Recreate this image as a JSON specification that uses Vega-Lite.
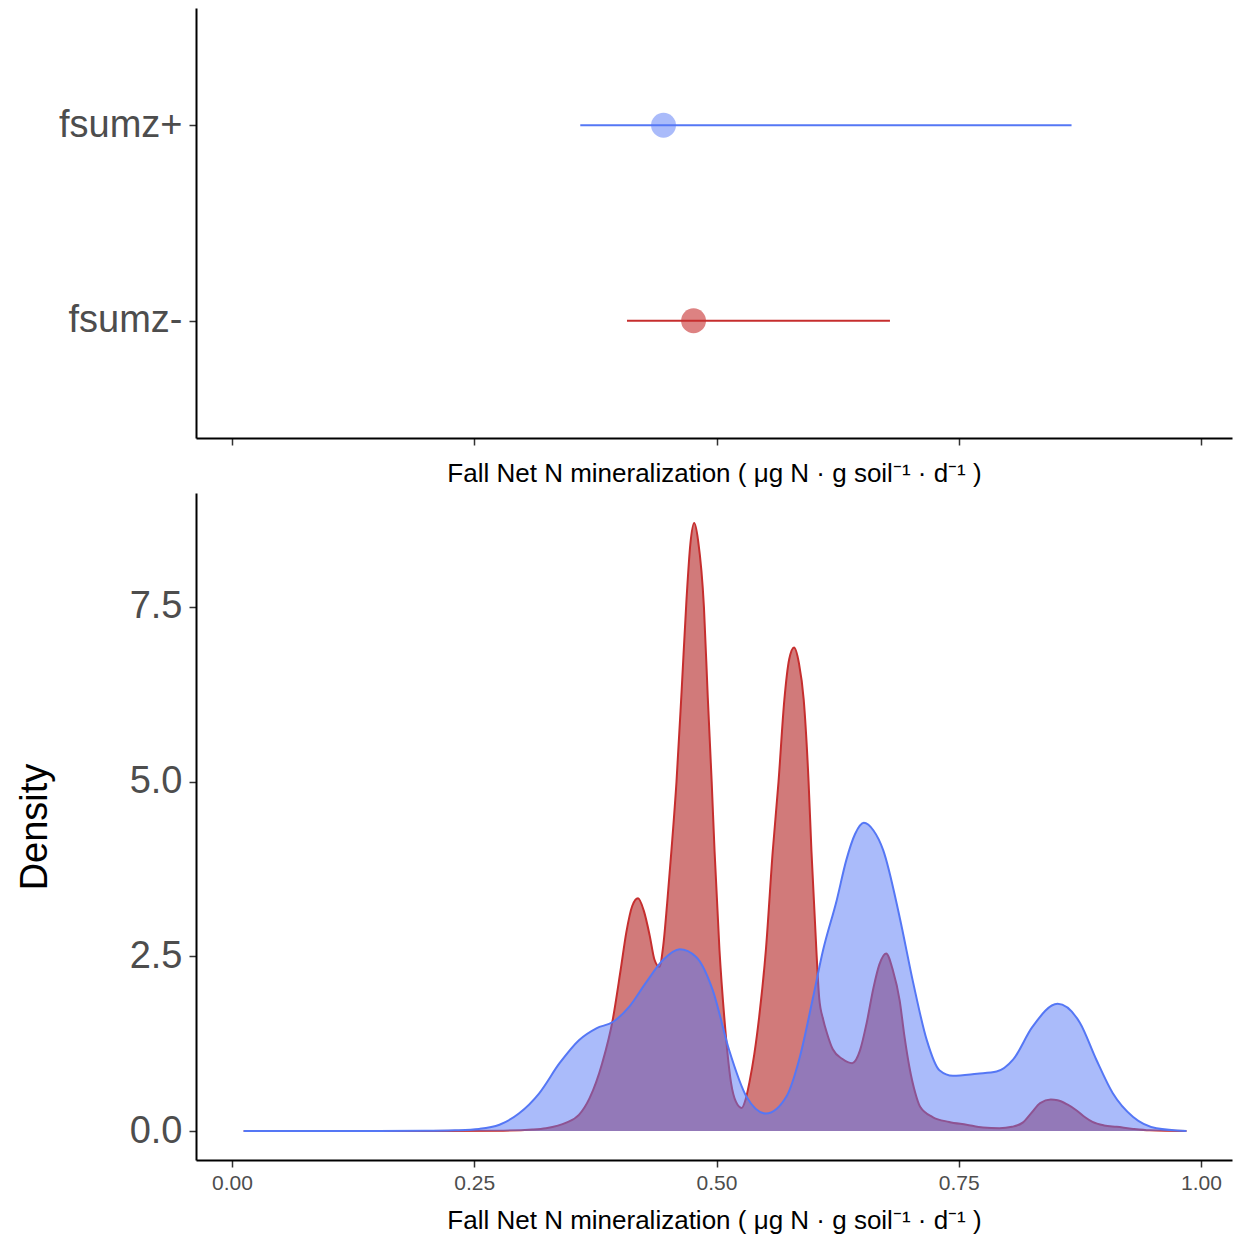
{
  "$schema": "https://vega.github.io/schema/vega-lite/v6.json",
  "background": "white",
  "padding": {"left": 16, "top": 8, "right": 5, "bottom": 5},
  "config": {
    "view": {"stroke": null},
    "font": "Liberation Sans",
    "concat": {"spacing": 6},
    "axis": {
      "domainColor": "black", "domainWidth": 2,
      "tickColor": "#333333", "tickWidth": 1.5, "tickSize": 7,
      "grid": false, "labelColor": "#4d4d4d", "titleColor": "black",
      "titleFontWeight": "normal", "labelFont": "Liberation Sans", "titleFont": "Liberation Sans"
    }
  },
  "datasets": {
    "summary": [
      {"group": "fsumz+", "mean": 0.4453, "lo": 0.3594, "hi": 0.8664},
      {"group": "fsumz-", "mean": 0.4763, "lo": 0.4076, "hi": 0.679}
    ],
    "dens": [
      {"group": "fsumz-", "x": 0.012, "density": 0},
      {"group": "fsumz-", "x": 0.2, "density": 0},
      {"group": "fsumz-", "x": 0.28, "density": 0.005},
      {"group": "fsumz-", "x": 0.31, "density": 0.02},
      {"group": "fsumz-", "x": 0.324, "density": 0.04},
      {"group": "fsumz-", "x": 0.345, "density": 0.12},
      {"group": "fsumz-", "x": 0.358, "density": 0.23},
      {"group": "fsumz-", "x": 0.369, "density": 0.47},
      {"group": "fsumz-", "x": 0.382, "density": 0.97},
      {"group": "fsumz-", "x": 0.393, "density": 1.6},
      {"group": "fsumz-", "x": 0.401, "density": 2.3},
      {"group": "fsumz-", "x": 0.407, "density": 2.85},
      {"group": "fsumz-", "x": 0.413, "density": 3.22},
      {"group": "fsumz-", "x": 0.419, "density": 3.33},
      {"group": "fsumz-", "x": 0.425, "density": 3.15},
      {"group": "fsumz-", "x": 0.431, "density": 2.8},
      {"group": "fsumz-", "x": 0.436, "density": 2.45},
      {"group": "fsumz-", "x": 0.441, "density": 2.35},
      {"group": "fsumz-", "x": 0.445, "density": 2.65},
      {"group": "fsumz-", "x": 0.449, "density": 3.25},
      {"group": "fsumz-", "x": 0.4535, "density": 4.02},
      {"group": "fsumz-", "x": 0.4587, "density": 5.0},
      {"group": "fsumz-", "x": 0.464, "density": 6.3},
      {"group": "fsumz-", "x": 0.469, "density": 7.6},
      {"group": "fsumz-", "x": 0.473, "density": 8.4},
      {"group": "fsumz-", "x": 0.477, "density": 8.7},
      {"group": "fsumz-", "x": 0.481, "density": 8.45},
      {"group": "fsumz-", "x": 0.487, "density": 7.5},
      {"group": "fsumz-", "x": 0.491, "density": 6.2},
      {"group": "fsumz-", "x": 0.495, "density": 5.0},
      {"group": "fsumz-", "x": 0.498, "density": 4.0},
      {"group": "fsumz-", "x": 0.503, "density": 2.6},
      {"group": "fsumz-", "x": 0.508, "density": 1.63},
      {"group": "fsumz-", "x": 0.515, "density": 0.69},
      {"group": "fsumz-", "x": 0.52, "density": 0.42},
      {"group": "fsumz-", "x": 0.526, "density": 0.33},
      {"group": "fsumz-", "x": 0.53, "density": 0.45},
      {"group": "fsumz-", "x": 0.534, "density": 0.7},
      {"group": "fsumz-", "x": 0.539, "density": 1.1},
      {"group": "fsumz-", "x": 0.544, "density": 1.63},
      {"group": "fsumz-", "x": 0.551, "density": 2.6},
      {"group": "fsumz-", "x": 0.558, "density": 4.0},
      {"group": "fsumz-", "x": 0.564, "density": 5.0},
      {"group": "fsumz-", "x": 0.57, "density": 6.17},
      {"group": "fsumz-", "x": 0.575, "density": 6.75},
      {"group": "fsumz-", "x": 0.58, "density": 6.92},
      {"group": "fsumz-", "x": 0.585, "density": 6.7},
      {"group": "fsumz-", "x": 0.59, "density": 6.17},
      {"group": "fsumz-", "x": 0.595, "density": 5.0},
      {"group": "fsumz-", "x": 0.598, "density": 4.0},
      {"group": "fsumz-", "x": 0.603, "density": 2.6},
      {"group": "fsumz-", "x": 0.606, "density": 1.9},
      {"group": "fsumz-", "x": 0.61, "density": 1.6},
      {"group": "fsumz-", "x": 0.614, "density": 1.4},
      {"group": "fsumz-", "x": 0.62, "density": 1.17},
      {"group": "fsumz-", "x": 0.63, "density": 1.03},
      {"group": "fsumz-", "x": 0.64, "density": 0.97},
      {"group": "fsumz-", "x": 0.648, "density": 1.15},
      {"group": "fsumz-", "x": 0.655, "density": 1.55},
      {"group": "fsumz-", "x": 0.662, "density": 2.05},
      {"group": "fsumz-", "x": 0.668, "density": 2.38},
      {"group": "fsumz-", "x": 0.675, "density": 2.54},
      {"group": "fsumz-", "x": 0.682, "density": 2.3},
      {"group": "fsumz-", "x": 0.689, "density": 1.87},
      {"group": "fsumz-", "x": 0.694, "density": 1.35},
      {"group": "fsumz-", "x": 0.699, "density": 0.92},
      {"group": "fsumz-", "x": 0.705, "density": 0.55},
      {"group": "fsumz-", "x": 0.71, "density": 0.35},
      {"group": "fsumz-", "x": 0.723, "density": 0.2},
      {"group": "fsumz-", "x": 0.74, "density": 0.13},
      {"group": "fsumz-", "x": 0.758, "density": 0.09},
      {"group": "fsumz-", "x": 0.775, "density": 0.05},
      {"group": "fsumz-", "x": 0.792, "density": 0.04},
      {"group": "fsumz-", "x": 0.805, "density": 0.06},
      {"group": "fsumz-", "x": 0.816, "density": 0.12},
      {"group": "fsumz-", "x": 0.825, "density": 0.26},
      {"group": "fsumz-", "x": 0.834, "density": 0.4},
      {"group": "fsumz-", "x": 0.845, "density": 0.45},
      {"group": "fsumz-", "x": 0.852, "density": 0.44},
      {"group": "fsumz-", "x": 0.862, "density": 0.38},
      {"group": "fsumz-", "x": 0.872, "density": 0.29},
      {"group": "fsumz-", "x": 0.88, "density": 0.2},
      {"group": "fsumz-", "x": 0.888, "density": 0.13},
      {"group": "fsumz-", "x": 0.9, "density": 0.08},
      {"group": "fsumz-", "x": 0.913, "density": 0.06},
      {"group": "fsumz-", "x": 0.93, "density": 0.03},
      {"group": "fsumz-", "x": 0.947, "density": 0.01},
      {"group": "fsumz-", "x": 0.985, "density": 0},
      {"group": "fsumz+", "x": 0.012, "density": 0},
      {"group": "fsumz+", "x": 0.15, "density": 0},
      {"group": "fsumz+", "x": 0.2, "density": 0.002},
      {"group": "fsumz+", "x": 0.23, "density": 0.01},
      {"group": "fsumz+", "x": 0.255, "density": 0.03},
      {"group": "fsumz+", "x": 0.276, "density": 0.09},
      {"group": "fsumz+", "x": 0.296, "density": 0.25},
      {"group": "fsumz+", "x": 0.317, "density": 0.54},
      {"group": "fsumz+", "x": 0.338, "density": 0.97},
      {"group": "fsumz+", "x": 0.358, "density": 1.3},
      {"group": "fsumz+", "x": 0.376, "density": 1.47},
      {"group": "fsumz+", "x": 0.393, "density": 1.56},
      {"group": "fsumz+", "x": 0.41, "density": 1.78},
      {"group": "fsumz+", "x": 0.427, "density": 2.12},
      {"group": "fsumz+", "x": 0.445, "density": 2.45},
      {"group": "fsumz+", "x": 0.462, "density": 2.6},
      {"group": "fsumz+", "x": 0.479, "density": 2.49},
      {"group": "fsumz+", "x": 0.496, "density": 2.02},
      {"group": "fsumz+", "x": 0.513, "density": 1.16},
      {"group": "fsumz+", "x": 0.531, "density": 0.49},
      {"group": "fsumz+", "x": 0.551, "density": 0.25},
      {"group": "fsumz+", "x": 0.572, "density": 0.49},
      {"group": "fsumz+", "x": 0.586, "density": 1.06},
      {"group": "fsumz+", "x": 0.599, "density": 1.87},
      {"group": "fsumz+", "x": 0.61, "density": 2.59},
      {"group": "fsumz+", "x": 0.624, "density": 3.3},
      {"group": "fsumz+", "x": 0.634, "density": 3.88},
      {"group": "fsumz+", "x": 0.643, "density": 4.25},
      {"group": "fsumz+", "x": 0.652, "density": 4.41},
      {"group": "fsumz+", "x": 0.662, "density": 4.3},
      {"group": "fsumz+", "x": 0.672, "density": 4.02},
      {"group": "fsumz+", "x": 0.689, "density": 3.06},
      {"group": "fsumz+", "x": 0.703, "density": 2.12},
      {"group": "fsumz+", "x": 0.717, "density": 1.3},
      {"group": "fsumz+", "x": 0.73, "density": 0.87},
      {"group": "fsumz+", "x": 0.744, "density": 0.79},
      {"group": "fsumz+", "x": 0.769, "density": 0.82},
      {"group": "fsumz+", "x": 0.789, "density": 0.85},
      {"group": "fsumz+", "x": 0.806, "density": 1.02},
      {"group": "fsumz+", "x": 0.826, "density": 1.49},
      {"group": "fsumz+", "x": 0.852, "density": 1.82},
      {"group": "fsumz+", "x": 0.875, "density": 1.55},
      {"group": "fsumz+", "x": 0.892, "density": 1.02},
      {"group": "fsumz+", "x": 0.909, "density": 0.54},
      {"group": "fsumz+", "x": 0.93, "density": 0.2},
      {"group": "fsumz+", "x": 0.954, "density": 0.04},
      {"group": "fsumz+", "x": 0.985, "density": 0}
    ]
  },
  "vconcat": [
    {
      "width": 1036,
      "height": 430,
      "data": {"name": "summary"},
      "encoding": {
        "y": {
          "field": "group", "type": "nominal", "sort": ["fsumz+", "fsumz-"],
          "scale": {"type": "point", "padding": 0.6},
          "axis": {"title": null, "labelFontSize": 38, "labelPadding": 7}
        }
      },
      "layer": [
        {
          "mark": {"type": "rule", "strokeWidth": 2},
          "encoding": {
            "x": {
              "field": "lo", "type": "quantitative",
              "scale": {"domain": [-0.0372, 1.032], "nice": false, "zero": false},
              "axis": {
                "values": [0, 0.25, 0.5, 0.75, 1], "labels": false,
                "title": "Fall Net N mineralization ( μg N · g soil⁻¹ · d⁻¹ )",
                "titleFontSize": 26, "titlePadding": 15
              }
            },
            "x2": {"field": "hi"},
            "color": {
              "field": "group", "type": "nominal",
              "scale": {"domain": ["fsumz-", "fsumz+"], "range": ["#C62E2E", "#5577F5"]},
              "legend": null
            }
          }
        },
        {
          "mark": {"type": "circle", "size": 620},
          "encoding": {
            "x": {"field": "mean", "type": "quantitative"},
            "color": {
              "field": "group", "type": "nominal",
              "scale": {"domain": ["fsumz-", "fsumz+"], "range": ["#B22222", "#5577F5"]},
              "legend": null
            },
            "opacity": {
              "field": "group", "type": "nominal",
              "scale": {"domain": ["fsumz-", "fsumz+"], "range": [0.6, 0.5]},
              "legend": null
            }
          }
        }
      ]
    },
    {
      "width": 1036,
      "height": 667,
      "data": {"name": "dens"},
      "encoding": {
        "x": {
          "field": "x", "type": "quantitative",
          "scale": {"domain": [-0.0372, 1.032], "nice": false, "zero": false},
          "axis": {
            "values": [0, 0.25, 0.5, 0.75, 1], "format": ".2f",
            "labelFontSize": 21, "labelPadding": 5,
            "title": "Fall Net N mineralization ( μg N · g soil⁻¹ · d⁻¹ )",
            "titleFontSize": 26, "titlePadding": 14
          }
        },
        "y": {
          "field": "density", "type": "quantitative", "stack": null,
          "scale": {"domain": [-0.415, 9.13], "nice": false, "zero": false},
          "axis": {
            "values": [0, 2.5, 5, 7.5], "format": ".1f",
            "labelFontSize": 38, "labelPadding": 7,
            "title": "Density", "titleFontSize": 38, "titlePadding": 75
          }
        }
      },
      "layer": [
        {
          "transform": [{"filter": "datum.group === 'fsumz-'"}],
          "mark": {"type": "area", "interpolate": "monotone", "color": "#B22222", "opacity": 0.6}
        },
        {
          "transform": [{"filter": "datum.group === 'fsumz-'"}],
          "mark": {"type": "line", "interpolate": "monotone", "color": "#C62E2E", "strokeWidth": 2}
        },
        {
          "transform": [{"filter": "datum.group === 'fsumz+'"}],
          "mark": {"type": "area", "interpolate": "monotone", "color": "#5577F5", "opacity": 0.5}
        },
        {
          "transform": [{"filter": "datum.group === 'fsumz+'"}],
          "mark": {"type": "line", "interpolate": "monotone", "color": "#5577F5", "strokeWidth": 2}
        }
      ]
    }
  ]
}
